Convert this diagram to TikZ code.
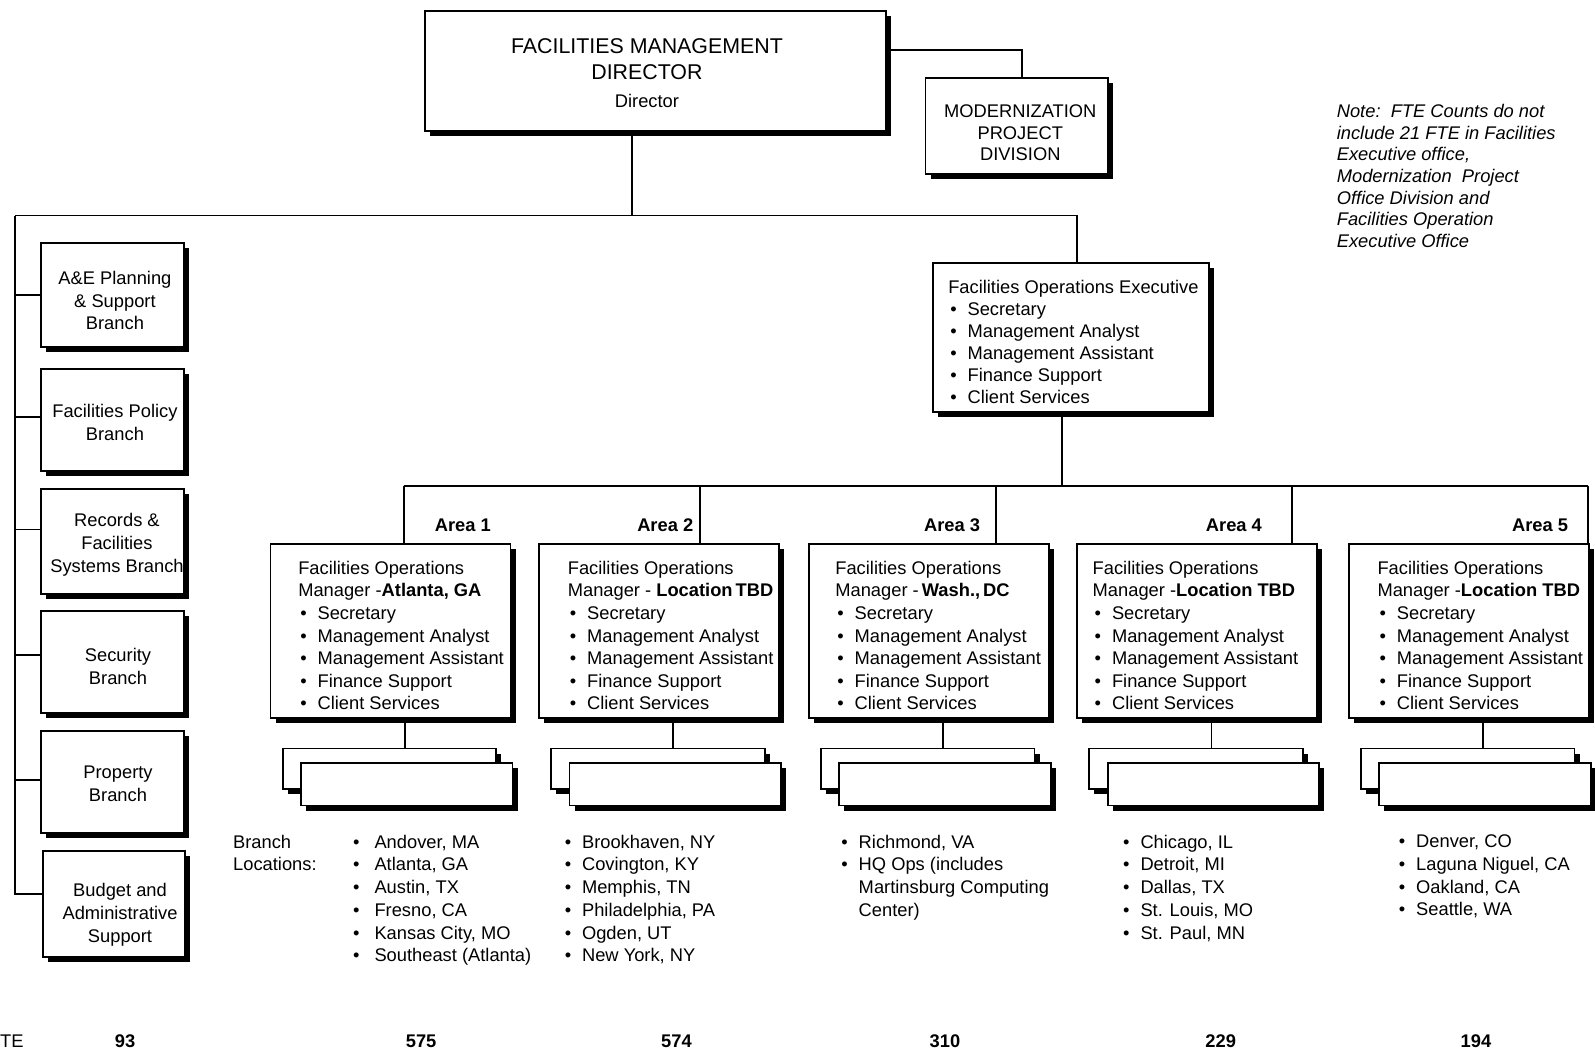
\documentclass[tikz,border=0pt]{standalone}
\usepackage{fontspec}
\setmainfont{Liberation Sans}
\usetikzlibrary{positioning,shadows}
\newcommand{\itm}[1]{\makebox[19pt][l]{\hspace{2pt}•}#1}
\newcommand{\loc}[1]{\makebox[18pt][l]{\hspace{1pt}•}#1}

\begin{document}
\begin{tikzpicture}[
  x=1pt, y=-1pt,
  every node/.style={inner sep=0pt, font=\fontsize{18}{22.4}\selectfont},
  box/.style={draw, fill=white, line width=1.8pt, anchor=north west,
    drop shadow={shadow xshift=5pt, shadow yshift=-5pt, fill=black, opacity=1}},
  lbl/.style={align=center},
  list/.style={anchor=north west, align=left},
  lnk/.style={line width=1.6pt},
  arealbl/.style={font=\fontsize{18}{22}\selectfont\bfseries},
  fte/.style={font=\fontsize{18}{22}\selectfont\bfseries}
]
\useasboundingbox (0,0) rectangle (1568,1036);

% director and the boxes beside it
\node[box, minimum width=453pt, minimum height=118pt] (dir) at (417,10) {};
\node[lbl, font=\fontsize{21}{25}\selectfont] (dirt) at (636,72)
  {FACILITIES MANAGEMENT\\DIRECTOR\\[3pt]{\fontsize{18}{22}\selectfont Director}};
\node[box, minimum width=179pt, minimum height=94pt] (mod) at (909,76) {};
\node[lbl, font=\fontsize{18}{21.5}\selectfont] (modt) at (1003,130.5) {MODERNIZATION\\PROJECT\\DIVISION};
\node[list, font=\fontsize{18}{21.3}\selectfont\itshape] (note) at (1314,102.4)
  {Note:\ \ FTE Counts do not\\include 21 FTE in Facilities\\Executive office,\\Modernization\ \ Project\\Office Division and\\Facilities Operation\\Executive Office};

% staff branches
\node[box, minimum width=141pt, minimum height=102pt] (ae) at (39,238) {};
\node[lbl] (aet) at (113,295.5) {A\&E Planning\\\& Support\\Branch};
\node[box, minimum width=141pt, minimum height=100pt] (pol) at (39,362) {};
\node[lbl] (polt) at (113,415) {Facilities Policy\\Branch};
\node[box, minimum width=141pt, minimum height=103pt] (rec) at (39,480) {};
\node[lbl] (rect) at (115,535.5) {Records \&\\Facilities\\Systems Branch};
\node[box, minimum width=141pt, minimum height=100pt] (sec) at (39,600) {};
\node[lbl] (sect) at (116,655) {Security\\Branch};
\node[box, minimum width=141pt, minimum height=100pt] (prop) at (39,718) {};
\node[lbl] (propt) at (116,770.5) {Property\\Branch};
\node[box, minimum width=140pt, minimum height=104pt] (bud) at (41,836) {};
\node[lbl] (budt) at (118,899) {Budget and\\Administrative\\Support};

% operations executive
\node[box, minimum width=272pt, minimum height=146pt] (foe) at (916,258) {};
\node[list, font=\fontsize{18}{21.7}\selectfont] (foet) at (932,275.4)
  {Facilities Operations Executive\\\itm{Secretary}\\\itm{Management Analyst}\\\itm{Management Assistant}\\\itm{Finance Support}\\\itm{Client Services}};

% area managers with their branch stacks
\foreach \i/\L/\tx/\city in {
  1/265/28/{-\textbf{Atlanta, GA}},
  2/529/29/{- \textbf{Location\,TBD}},
  3/794/27/{-\,\textbf{Wash.,\,DC}},
  4/1058/16/{-\textbf{Location TBD}},
  5/1325/29/{-\textbf{Location TBD}}}{
  \node[box, minimum width=236pt, minimum height=171pt] (m\i) at (\L,534) {};
  \node[list, font=\fontsize{18}{22.2}\selectfont] (mt\i) at (\L+\tx,551.4)
    {Facilities Operations\\Manager \city\\\itm{Secretary}\\\itm{Management Analyst}\\\itm{Management Assistant}\\\itm{Finance Support}\\\itm{Client Services}};
  \node[box, minimum width=210pt, minimum height=40pt] (bk\i) at (\L+12,735) {};
  \node[box, minimum width=208pt, minimum height=42pt] (fr\i) at (\L+30,749) {};
  \draw[lnk] ([xshift=14pt]m\i.south) -- ([xshift=15pt]bk\i.north);
}

% area labels
\node[arealbl] (al1) at (455,516) {Area 1};
\node[arealbl] (al2) at (654,516) {Area 2};
\node[arealbl] (al3) at (936,516) {Area 3};
\node[arealbl] (al4) at (1213,516) {Area 4};
\node[arealbl] (al5) at (1514,516) {Area 5};

% connectors
\coordinate (hub) at (621,212);
\coordinate (bus) at (15,212);
\coordinate (fx) at (1059,212);
\coordinate (fj) at (1044,478);
\draw[lnk] ([yshift=21pt]dir.east) -| ([xshift=5pt]mod.north);
\draw[lnk] (dir.south -| hub) -- (hub);
\draw[lnk] (bus) -- (fx) -- (foe.north -| fx);
\draw[lnk] (bus) |- ([yshift=10pt]bud.west);
\foreach \b/\dy in {ae/0,pol/3,rec/12,sec/7,prop/2}
  \draw[lnk] ([yshift=\dy pt]\b.west) -- +(-24,0);
\foreach \i/\x in {1/397,2/688,3/979,4/1270,5/1561}
  \coordinate (a\i) at (\x,478);
\draw[lnk] (a1) -- (a5);
\draw[lnk] (foe.south -| fj) -- (fj);
\foreach \i in {1,...,5}
  \draw[lnk] (a\i) -- (a\i |- m\i.north);

% branch locations
\node[list] (brl) at (229,820.4) {Branch\\Locations:};
\node[list] (loc1) at (346,820.4) {\loc{\hspace{4pt}Andover, MA}\\\loc{\hspace{4pt}Atlanta, GA}\\\loc{\hspace{4pt}Austin, TX}\\\loc{\hspace{4pt}Fresno, CA}\\\loc{\hspace{4pt}Kansas City, MO}\\\loc{\hspace{4pt}Southeast (Atlanta)}};
\node[list] (loc2) at (554,820.4) {\loc{Brookhaven, NY}\\\loc{Covington, KY}\\\loc{Memphis, TN}\\\loc{Philadelphia, PA}\\\loc{Ogden, UT}\\\loc{New York, NY}};
\node[list] (loc3) at (826,820.4) {\loc{Richmond, VA}\\\loc{HQ Ops (includes}\\\hspace*{18pt}Martinsburg Computing\\\hspace*{18pt}Center)};
\node[list] (loc4) at (1103,820.4) {\loc{Chicago, IL}\\\loc{Detroit, MI}\\\loc{Dallas, TX}\\\loc{St. Louis, MO}\\\loc{St. Paul, MN}};
\node[list] (loc5) at (1374,820.4) {\loc{Denver, CO}\\\loc{Laguna Niguel, CA}\\\loc{Oakland, CA}\\\loc{Seattle, WA}};

% FTE counts
\node[anchor=west] (ftel) at (0,1024) {TE};
\node[fte] (n0) at (123,1024) {93};
\node[fte] (n1) at (414,1024) {575};
\node[fte] (n2) at (665,1024) {574};
\node[fte] (n3) at (929,1024) {310};
\node[fte] (n4) at (1200,1024) {229};
\node[fte] (n5) at (1451,1024) {194};
\end{tikzpicture}
\end{document}
